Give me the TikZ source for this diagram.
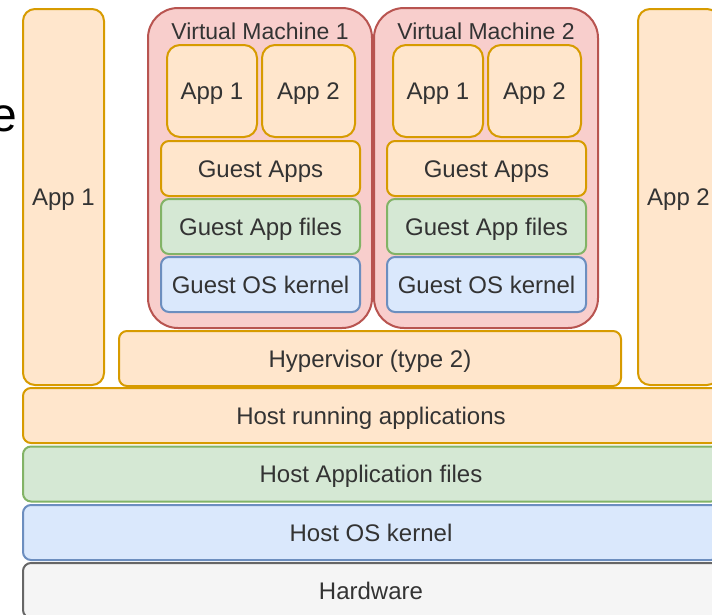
\documentclass[tikz,border=0pt]{standalone}
\usepackage{fontspec}
\setmainfont{Liberation Sans}
\begin{document}
\begin{tikzpicture}[x=1pt,y=-1pt]
  % draw.io style palette
  \definecolor{orangeFill}{HTML}{FFE6CC}\definecolor{orangeLine}{HTML}{D79B00}
  \definecolor{redFill}{HTML}{F8CECC}\definecolor{redLine}{HTML}{B85450}
  \definecolor{greenFill}{HTML}{D5E8D4}\definecolor{greenLine}{HTML}{82B366}
  \definecolor{blueFill}{HTML}{DAE8FC}\definecolor{blueLine}{HTML}{6C8EBF}
  \definecolor{greyFill}{HTML}{F5F5F5}\definecolor{greyLine}{HTML}{666666}
  \definecolor{txt}{HTML}{333333}
  \tikzset{
    layer/.style={rectangle, line width=2pt, inner sep=0pt, text=txt,
      font=\fontsize{24}{28}\selectfont, text height=17pt, text depth=0pt,
      rounded corners=8pt},
    orangebox/.style={layer, draw=orangeLine, fill=orangeFill},
    redbox/.style={layer, draw=redLine, fill=redFill, rounded corners=30pt},
    greenbox/.style={layer, draw=greenLine, fill=greenFill},
    bluebox/.style={layer, draw=blueLine, fill=blueFill},
    greybox/.style={layer, draw=greyLine, fill=greyFill},
    sz/.style 2 args={minimum width=#1pt, minimum height=#2pt},
    vmtitle/.style={text=txt, font=\fontsize{23}{27}\selectfont, inner sep=0pt}
  }
  \useasboundingbox (0,0) rectangle (712,614);

  % partly hidden caption letter on the left
  \node[anchor=base east, inner sep=0pt, font=\fontsize{48}{56}\selectfont]
    (cap) at (17,131) {e};

  % stand-alone host applications
  \node[orangebox, sz={81}{376}, rounded corners=12pt] (happ1) at (63.5,197) {App 1};
  \node[orangebox, sz={81}{376}, rounded corners=12pt] (happ2) at (678.5,197) {App 2};

  % virtual machine 1
  \node[redbox, sz={224}{320}] (vm1) at (260,168) {};
  \node[vmtitle] (vm1t) at (260,31) {Virtual Machine 1};
  \node[orangebox, sz={90}{92}, rounded corners=13pt] (vm1a1) at (212,91) {App 1};
  \node[orangebox, sz={93}{92}, rounded corners=13pt] (vm1a2) at (308.5,91) {App 2};
  \node[orangebox, sz={199}{55}] (vm1ga) at (260.5,168.5) {Guest Apps};
  \node[greenbox, sz={199}{55}] (vm1gf) at (260.5,226.5) {Guest App files};
  \node[bluebox, sz={199}{55}] (vm1gk) at (260.5,284.5) {Guest OS kernel};

  % virtual machine 2
  \node[redbox, sz={224}{320}] (vm2) at (486,168) {};
  \node[vmtitle] (vm2t) at (486,31) {Virtual Machine 2};
  \node[orangebox, sz={90}{92}, rounded corners=13pt] (vm2a1) at (438,91) {App 1};
  \node[orangebox, sz={93}{92}, rounded corners=13pt] (vm2a2) at (534.5,91) {App 2};
  \node[orangebox, sz={199}{55}] (vm2ga) at (486.5,168.5) {Guest Apps};
  \node[greenbox, sz={199}{55}] (vm2gf) at (486.5,226.5) {Guest App files};
  \node[bluebox, sz={199}{55}] (vm2gk) at (486.5,284.5) {Guest OS kernel};

  % host stack
  \node[orangebox, sz={502}{55}] (hyp) at (370,358.5) {Hypervisor (type 2)};
  \node[orangebox, sz={696}{55}] (hrun) at (371,415.5) {Host running applications};
  \node[greenbox, sz={696}{55}] (hfiles) at (371,474) {Host Application files};
  \node[bluebox, sz={696}{55}] (hos) at (371,532.5) {Host OS kernel};
  \node[greybox, sz={696}{55}] (hw) at (371,590.5) {Hardware};
\end{tikzpicture}
\end{document}
